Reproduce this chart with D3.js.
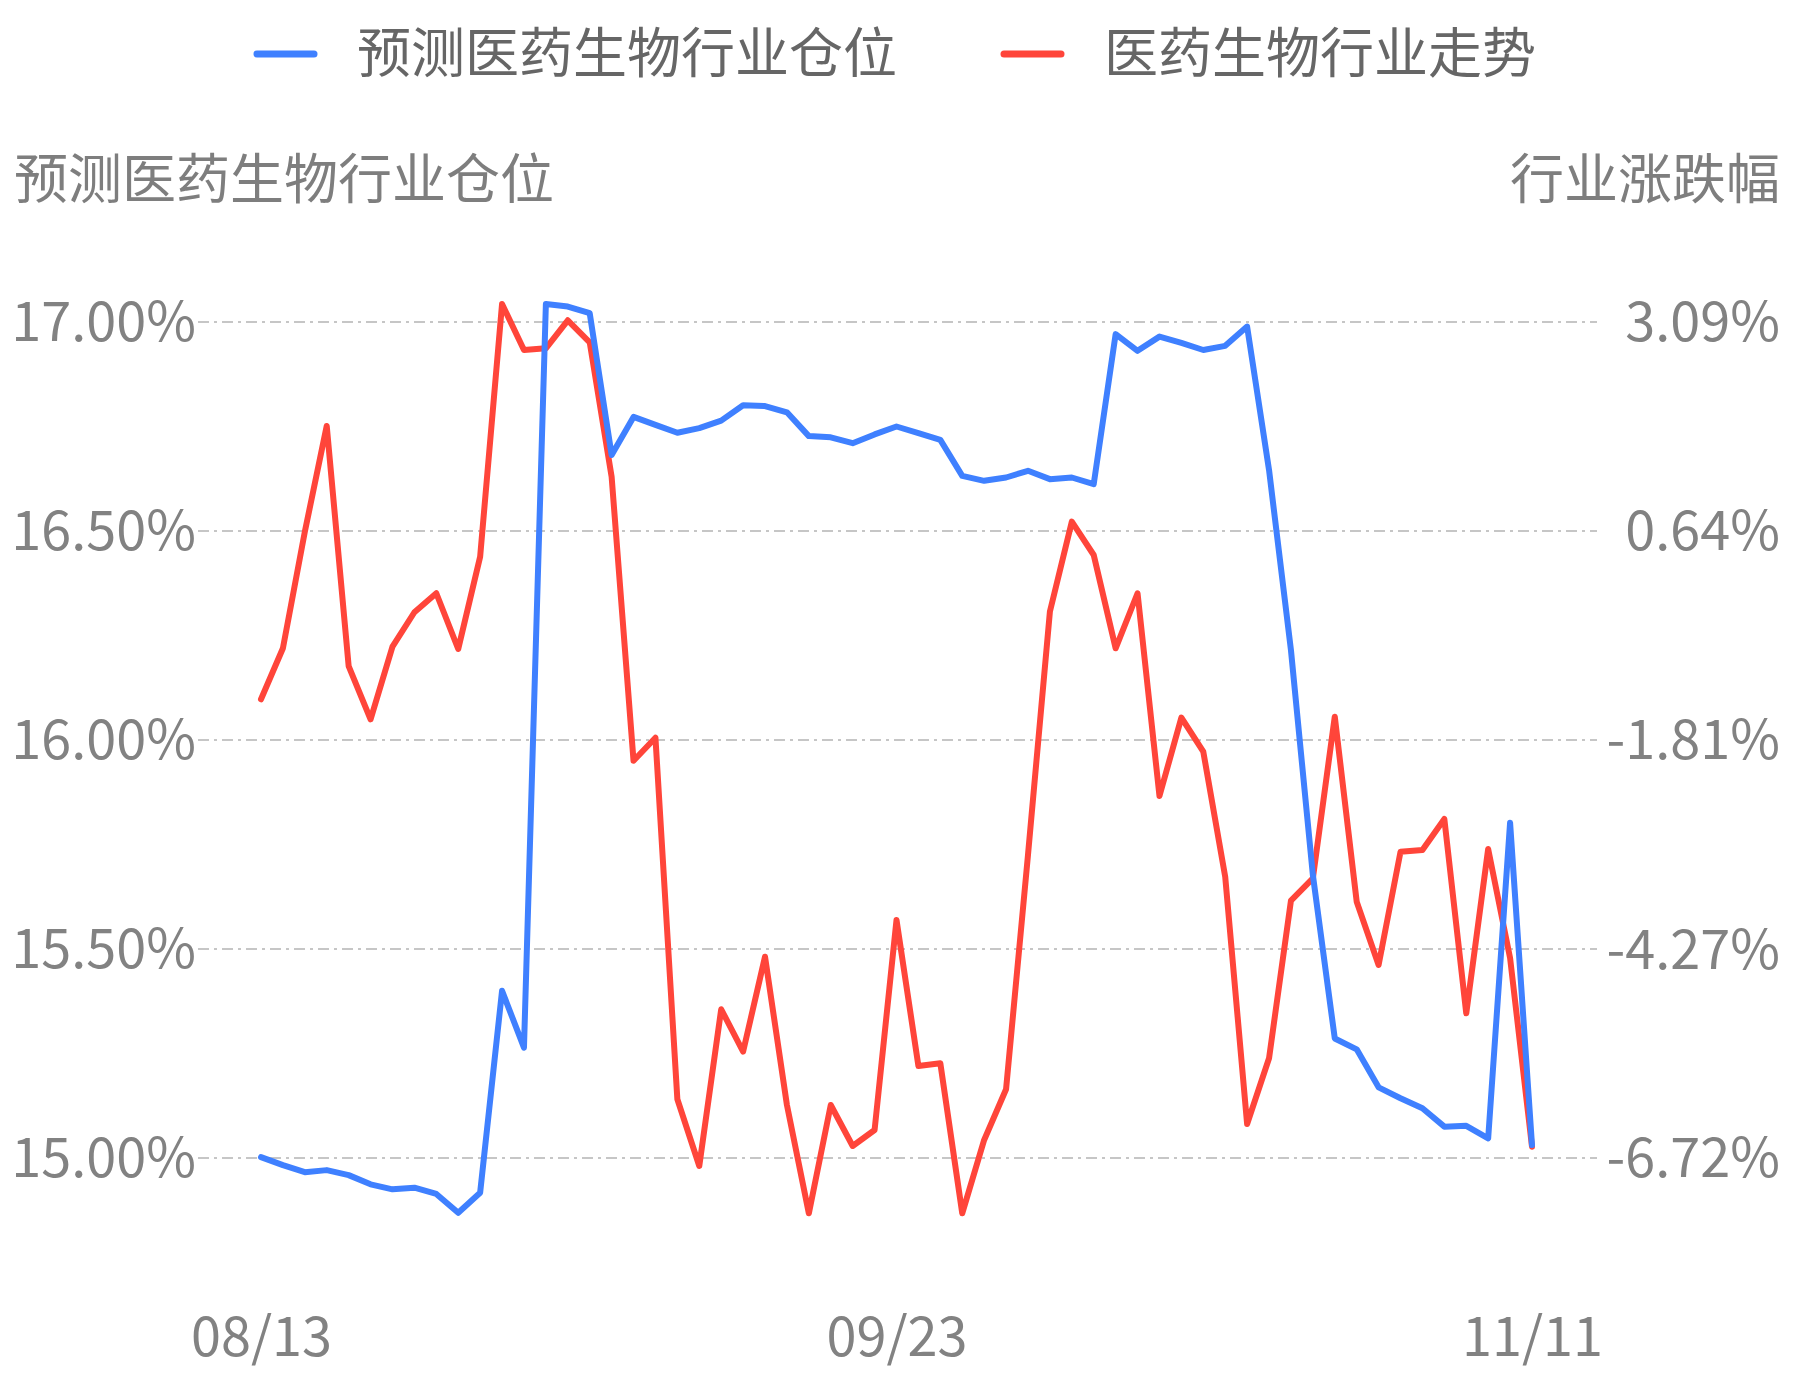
<!DOCTYPE html>
<html>
<head>
<meta charset="utf-8">
<script src="https://cdn.jsdelivr.net/npm/d3@7"></script>
<style>
    body { margin: 0; background: #fff; }
    text { font-family: "Noto Sans CJK SC", "Noto Sans", sans-serif; }
</style>
</head>
<body>
<div id="chart"></div>
<script>
// trading days 2025
const dates = [
    "08/13","08/14","08/15","08/18","08/19","08/20","08/21","08/22","08/25","08/26","08/27","08/28","08/29",
    "09/01","09/02","09/03","09/04","09/05","09/08","09/09","09/10","09/11","09/12",
    "09/15","09/16","09/17","09/18","09/19","09/22","09/23","09/24","09/25","09/26","09/29","09/30",
    "10/09","10/10","10/13","10/14","10/15","10/16","10/17","10/20","10/21","10/22","10/23","10/24",
    "10/27","10/28","10/29","10/30","10/31",
    "11/03","11/04","11/05","11/06","11/07","11/10","11/11"
];

// 预测医药生物行业仓位 (%)
const position = [
    15.002, 14.983, 14.966, 14.971, 14.959, 14.937, 14.925, 14.929, 14.914, 14.869,
    14.917, 15.400, 15.264, 17.043, 17.037, 17.021, 16.682, 16.773, 16.754, 16.735,
    16.746, 16.764, 16.801, 16.799, 16.784, 16.727, 16.724, 16.710, 16.731, 16.750,
    16.734, 16.718, 16.632, 16.620, 16.628, 16.644, 16.624, 16.628, 16.612, 16.971,
    16.931, 16.965, 16.950, 16.933, 16.943, 16.989, 16.646, 16.215, 15.677, 15.286,
    15.260, 15.169, 15.143, 15.119, 15.075, 15.077, 15.047, 15.802, 15.031
];

// 医药生物行业走势 (%)
const trend = [
    -1.337, -0.739, 0.629, 1.870, -0.947, -1.572, -0.720, -0.316, -0.093, -0.747,
    0.336, 3.301, 2.761, 2.781, 3.110, 2.852, 1.275, -2.058, -1.788, -6.031,
    -6.814, -4.975, -5.472, -4.358, -6.098, -7.369, -6.098, -6.579, -6.391, -3.927,
    -5.640, -5.608, -7.369, -6.508, -5.914, -3.164, -0.309, 0.747, 0.356, -0.739,
    -0.093, -2.472, -1.553, -1.952, -3.419, -6.321, -5.550, -3.700, -3.438, -1.541,
    -3.712, -4.455, -3.126, -3.106, -2.742, -5.022, -3.094, -4.373, -6.587
];

const leftTicks = [15.0, 15.5, 16.0, 16.5, 17.0];
const rightTicks = [-6.72, -4.27, -1.81, 0.64, 3.09];
const xTicks = ["08/13", "09/23", "11/11"];

const seriesNames = ["预测医药生物行业仓位", "医药生物行业走势"];
const leftTitle = "预测医药生物行业仓位";
const rightTitle = "行业涨跌幅";

const BLUE = "#3f80ff";
const RED = "#ff453a";

class DualLineChart {
    constructor(element) {
        this.parentElement = element;
        this.initVis();
    }

    initVis() {
        const vis = this;

        vis.WIDTH = 1793;
        vis.HEIGHT = 1380;

        vis.svg = d3.select(vis.parentElement).append("svg")
            .attr("width", vis.WIDTH)
            .attr("height", vis.HEIGHT);

        vis.x = d3.scalePoint().domain(dates).range([261, 1532]);
        vis.yLeft = d3.scaleLinear().domain([15, 17]).range([1158, 322]);
        vis.yRight = d3.scaleLinear().domain([-6.72, 3.09]).range([1158, 322]);

        vis.update();
    }

    update() {
        const vis = this;

        // grid lines (dash-dot)
        vis.svg.append("g")
            .selectAll("line")
            .data(leftTicks)
            .join("line")
            .attr("x1", 198)
            .attr("x2", 1597)
            .attr("y1", d => vis.yLeft(d))
            .attr("y2", d => vis.yLeft(d))
            .attr("stroke", "#c6c6c6")
            .attr("stroke-width", 2)
            .attr("stroke-dasharray", "11,5,3,5");

        // left axis
        const leftAxis = vis.svg.append("g")
            .attr("transform", "translate(196,0)")
            .call(d3.axisLeft(vis.yLeft).tickValues(leftTicks)
                .tickSize(0).tickPadding(0)
                .tickFormat(d => d.toFixed(2) + "%"));
        leftAxis.select(".domain").remove();
        leftAxis.selectAll("text")
            .attr("fill", "#828282")
            .style("font-size", "54px")
            .attr("dy", "0.35em");

        // right axis
        const rightAxis = vis.svg.append("g")
            .attr("transform", "translate(1780,0)")
            .call(d3.axisRight(vis.yRight).tickValues(rightTicks)
                .tickSize(0).tickPadding(0)
                .tickFormat(d => d.toFixed(2) + "%"));
        rightAxis.select(".domain").remove();
        rightAxis.selectAll("text")
            .attr("fill", "#828282")
            .attr("text-anchor", "end")
            .style("font-size", "54px")
            .attr("dy", "0.35em");

        // x axis
        const xAxis = vis.svg.append("g")
            .attr("transform", "translate(0,1337)")
            .call(d3.axisBottom(vis.x).tickValues(xTicks).tickSize(0).tickPadding(0));
        xAxis.select(".domain").remove();
        xAxis.selectAll("text")
            .attr("fill", "#828282")
            .attr("y", 0)
            .attr("dy", "0.35em")
            .style("font-size", "54px");

        // axis titles
        vis.svg.append("text")
            .attr("x", 14)
            .attr("y", 180)
            .attr("dy", "0.35em")
            .attr("fill", "#7e7e7e")
            .style("font-size", "54px")
            .text(leftTitle);

        vis.svg.append("text")
            .attr("x", 1780)
            .attr("y", 180)
            .attr("dy", "0.35em")
            .attr("text-anchor", "end")
            .attr("fill", "#7e7e7e")
            .style("font-size", "54px")
            .text(rightTitle);

        // lines
        const lineRight = d3.line()
            .x((d, i) => vis.x(dates[i]))
            .y(d => vis.yRight(d));
        const lineLeft = d3.line()
            .x((d, i) => vis.x(dates[i]))
            .y(d => vis.yLeft(d));

        vis.svg.append("path")
            .datum(trend)
            .attr("fill", "none")
            .attr("stroke", RED)
            .attr("stroke-width", 6)
            .attr("stroke-linejoin", "round")
            .attr("stroke-linecap", "round")
            .attr("d", lineRight);

        vis.svg.append("path")
            .datum(position)
            .attr("fill", "none")
            .attr("stroke", BLUE)
            .attr("stroke-width", 6)
            .attr("stroke-linejoin", "round")
            .attr("stroke-linecap", "round")
            .attr("d", lineLeft);

        // legend
        const legendItems = [
            { name: seriesNames[0], color: BLUE, x: 257 },
            { name: seriesNames[1], color: RED, x: 1004 }
        ];
        const legend = vis.svg.append("g")
            .selectAll("g")
            .data(legendItems)
            .join("g")
            .attr("transform", d => `translate(${d.x}, 54)`);

        legend.append("line")
            .attr("x1", 0)
            .attr("x2", 57)
            .attr("stroke", d => d.color)
            .attr("stroke-width", 7)
            .attr("stroke-linecap", "round");

        legend.append("text")
            .attr("x", 100)
            .attr("dy", "0.35em")
            .attr("fill", "#666")
            .style("font-size", "54px")
            .text(d => d.name);
    }
}

new DualLineChart("#chart");
</script>
</body>
</html>
